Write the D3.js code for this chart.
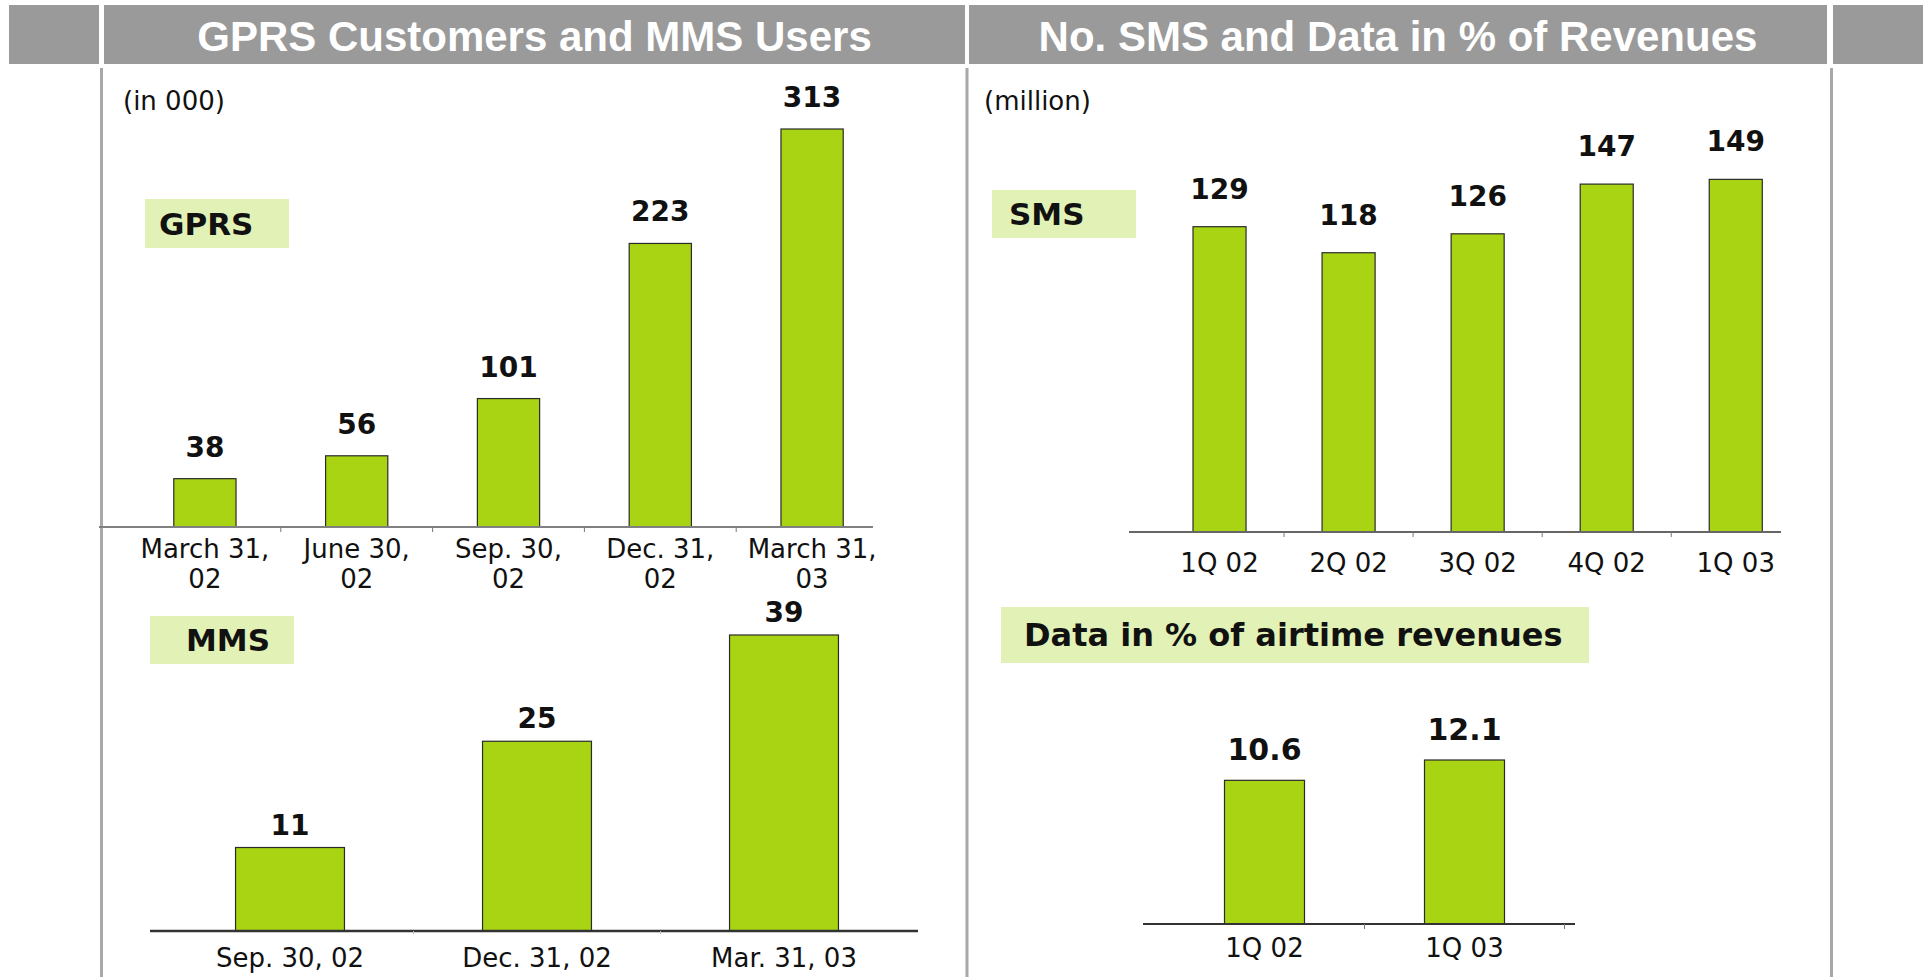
<!DOCTYPE html>
<html>
<head>
<meta charset="utf-8">
<script src="https://cdn.jsdelivr.net/npm/d3@7"></script>
<style>
  body { margin: 0; background: #fff; }
  svg { display: block; }
</style>
</head>
<body>
<svg id="chart" width="1923" height="977"></svg>
<script>
// ---------- DATA ----------
const leftTitle = 'GPRS Customers and MMS Users';
const rightTitle = 'No. SMS and Data in % of Revenues';

const gprsCategories = ['March 31, 02', 'June 30, 02', 'Sep. 30, 02', 'Dec. 31, 02', 'March 31, 03'];
const gprsValues = [38, 56, 101, 223, 313];

const mmsCategories = ['Sep. 30, 02', 'Dec. 31, 02', 'Mar. 31, 03'];
const mmsValues = [11, 25, 39];

const smsCategories = ['1Q 02', '2Q 02', '3Q 02', '4Q 02', '1Q 03'];
const smsValues = [129, 118, 126, 147, 149];

const dataCategories = ['1Q 02', '1Q 03'];
const dataValues = [10.6, 12.1];

// ---------- STYLE ----------
const barFill = '#a8d414';
const boxFill = '#e2f2b6';
const headerGray = '#9a9a9a';
const font = '"DejaVu Sans", Verdana, sans-serif';

const svg = d3.select('#chart');

// ---------- HEADER ----------
const header = [
  { x0: 9, x1: 99, text: '' },
  { x0: 104, x1: 965, text: leftTitle },
  { x0: 969, x1: 1827, text: rightTitle },
  { x0: 1833, x1: 1923, text: '' },
];
svg.selectAll('rect.head')
  .data(header)
  .join('rect')
  .attr('class', 'head')
  .attr('x', (d) => d.x0)
  .attr('y', 5)
  .attr('width', (d) => d.x1 - d.x0)
  .attr('height', 59)
  .attr('fill', headerGray);

svg.selectAll('text.head')
  .data(header.filter((d) => d.text))
  .join('text')
  .attr('class', 'head')
  .attr('x', (d) => (d.x0 + d.x1) / 2)
  .attr('y', 51)
  .attr('text-anchor', 'middle')
  .attr('fill', '#fff')
  .attr('font-family', '"Liberation Sans", Arial, sans-serif')
  .attr('font-weight', 'bold')
  .attr('font-size', 42)
  .text((d) => d.text);

// vertical panel rules
svg.selectAll('line.rule')
  .data([101.5, 967, 1831.5])
  .join('line')
  .attr('class', 'rule')
  .attr('x1', (d) => d)
  .attr('x2', (d) => d)
  .attr('y1', 68)
  .attr('y2', 977)
  .attr('stroke', '#a8a8a8')
  .attr('stroke-width', 3);

// unit notes
svg.selectAll('text.unit')
  .data([{ x: 123, t: '(in 000)' }, { x: 984, t: '(million)' }])
  .join('text')
  .attr('class', 'unit')
  .attr('x', (d) => d.x)
  .attr('y', 110)
  .attr('font-family', font)
  .attr('font-size', 26)
  .attr('fill', '#111')
  .text((d) => d.t);

// ---------- BAR PANEL ----------
function barPanel(o) {
  const x = d3.scaleBand()
    .domain(o.categories)
    .range(o.xRange)
    .paddingInner(o.pad)
    .paddingOuter(o.pad / 2);
  const y = d3.scaleLinear().domain([0, o.yMax]).range([o.base, o.top]);
  const data = o.categories.map((c, i) => ({ c, v: o.values[i] }));
  const g = svg.append('g');

  // label box
  g.append('rect')
    .attr('x', o.box.x)
    .attr('y', o.box.y)
    .attr('width', o.box.w)
    .attr('height', o.box.h)
    .attr('fill', boxFill);
  g.append('text')
    .attr('x', o.box.x + o.box.pad)
    .attr('y', o.box.y + o.box.h / 2 + 11)
    .attr('font-family', font)
    .attr('font-weight', 'bold')
    .attr('font-size', o.box.size || 31)
    .attr('fill', '#111')
    .text(o.box.text);

  g.selectAll('rect.bar')
    .data(data)
    .join('rect')
    .attr('class', 'bar')
    .attr('x', (d) => x(d.c))
    .attr('y', (d) => y(d.v))
    .attr('width', x.bandwidth())
    .attr('height', (d) => o.base - y(d.v))
    .attr('fill', barFill)
    .attr('stroke', '#2b2b2b')
    .attr('stroke-width', 1.2);

  // axis line + ticks between categories
  g.append('line')
    .attr('x1', o.axis[0])
    .attr('x2', o.axis[1])
    .attr('y1', o.base)
    .attr('y2', o.base)
    .attr('stroke', o.axisColor || '#666')
    .attr('stroke-width', o.axisWidth || 2);
  const ticks = d3.range(1, o.categories.length + (o.endTick ? 1 : 0))
    .map((i) => o.xRange[0] + i * x.step());
  g.selectAll('line.tick')
    .data(ticks)
    .join('line')
    .attr('class', 'tick')
    .attr('x1', (d) => d)
    .attr('x2', (d) => d)
    .attr('y1', o.base)
    .attr('y2', o.base + (o.tickLen || 5))
    .attr('stroke', o.tickColor || '#777')
    .attr('stroke-width', 1);

  // value labels
  g.selectAll('text.val')
    .data(data)
    .join('text')
    .attr('class', 'val')
    .attr('x', (d) => x(d.c) + x.bandwidth() / 2)
    .attr('y', (d) => y(d.v) - o.valGap)
    .attr('text-anchor', 'middle')
    .attr('font-family', font)
    .attr('font-weight', 'bold')
    .attr('font-size', o.valSize || 28)
    .attr('fill', '#111')
    .text((d) => d.v);

  // category labels (optionally on two lines)
  const cat = g.selectAll('text.cat')
    .data(data)
    .join('text')
    .attr('class', 'cat')
    .attr('text-anchor', 'middle')
    .attr('font-family', font)
    .attr('font-size', 26)
    .attr('fill', '#111');
  cat.each(function (d) {
    const cx = x(d.c) + x.bandwidth() / 2;
    const k = d.c.lastIndexOf(' ');
    const lines = o.wrap ? [d.c.slice(0, k), d.c.slice(k + 1)] : [d.c];
    d3.select(this)
      .selectAll('tspan')
      .data(lines)
      .join('tspan')
      .attr('x', cx)
      .attr('y', (l, i) => o.base + o.catGap + i * 30)
      .text((l) => l);
  });
}

barPanel({
  categories: gprsCategories, values: gprsValues,
  xRange: [129, 888], pad: 0.59, yMax: 313, base: 527, top: 129,
  axis: [99, 873], axisColor: '#808080', axisWidth: 2,
  valGap: 22, catGap: 31, wrap: true,
  box: { x: 145, y: 199, w: 144, h: 49, pad: 14, text: 'GPRS' },
});

barPanel({
  categories: mmsCategories, values: mmsValues,
  xRange: [166.5, 907.5], pad: 0.559, yMax: 39, base: 931, top: 635,
  axis: [150, 918], axisColor: '#333', axisWidth: 2.5,
  tickLen: 3, tickColor: '#bbb',
  valGap: 13, catGap: 36,
  box: { x: 150, y: 616, w: 144, h: 48, pad: 36, text: 'MMS' },
});

barPanel({
  categories: smsCategories, values: smsValues,
  xRange: [1155, 1800.3], pad: 0.589, yMax: 150, base: 532, top: 177,
  axis: [1129, 1781], axisColor: '#666', axisWidth: 2,
  valGap: 28, catGap: 40,
  box: { x: 992, y: 190, w: 144, h: 48, pad: 17, text: 'SMS' },
});

barPanel({
  categories: dataCategories, values: dataValues,
  xRange: [1164.5, 1564.5], pad: 0.6, yMax: 12.1, base: 924, top: 760,
  axis: [1143, 1575], axisColor: '#333', axisWidth: 2,
  endTick: true, valGap: 20, catGap: 33, valSize: 30,
  box: { x: 1001, y: 607, w: 588, h: 56, pad: 23, size: 32, text: 'Data in % of airtime revenues' },
});
</script>
</body>
</html>
